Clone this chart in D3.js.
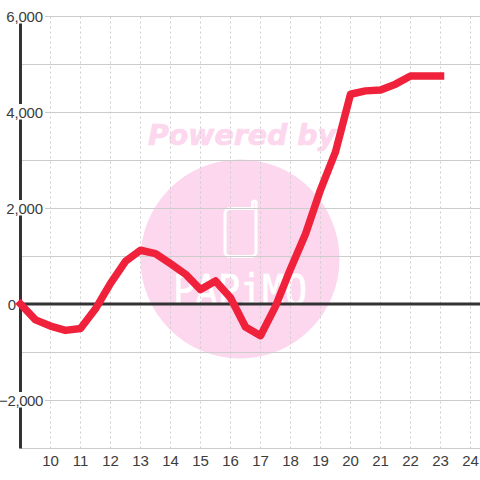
<!DOCTYPE html>
<html><head><meta charset="utf-8">
<script src="https://cdn.jsdelivr.net/npm/d3@7"></script>
<style>html,body{margin:0;padding:0;background:#fff}svg{display:block}</style>
</head><body><svg id="c" width="480" height="480"></svg>
<script>
const hours = [9,9.5,10,10.5,11,11.5,12,12.5,13,13.5,14,14.5,15,15.5,16,16.5,17,17.5,18,18.5,19,19.5,20,20.5,21,21.5,22,22.5,23];
const values = [0,-330,-460,-550,-510,-100,430,890,1120,1050,840,620,300,480,130,-480,-660,-50,730,1460,2380,3170,4370,4440,4460,4580,4750,4750,4750];
const xTicks = [10,11,12,13,14,15,16,17,18,19,20,21,22,23,24];
const yGrid = [6000,5000,4000,3000,2000,1000,-1000,-2000,-3000];
const yLabels = [6000,4000,2000,0,-2000];

const svg = d3.select("#c");
const x = d3.scaleLinear().domain([9,24]).range([20.5,470.5]);
const y = d3.scaleLinear().domain([-3000,6000]).range([448.5,16.5]);
const fmt = d3.format(",");
const GRID="#ccc", AXIS="#333", TXT="#3c3c3c", PINK="#fcd7ee";

// watermark logo
const logo = svg.append("g");
logo.append("circle").attr("cx",240).attr("cy",259).attr("r",99.5).attr("fill",PINK);
logo.append("text").attr("x",148).attr("y",145)
  .attr("font-family","DejaVu Sans").attr("font-weight","bold").attr("font-style","italic")
  .attr("font-size",28.4).attr("fill",PINK).attr("stroke",PINK).attr("stroke-width",0.7).text("Powered by");
logo.append("path")
  .attr("d","M230 208.5H252.5V202a2 2 0 0 1 3.5 0V252a4.5 4.5 0 0 1-4.5 4.5H229.5a4.5 4.5 0 0 1-4.5-4.5V213.5a5 5 0 0 1 5-5Z")
  .attr("fill","none").attr("stroke","#fff").attr("stroke-width",3);
logo.append("text").attr("x",173).attr("y",305)
  .attr("font-family","DejaVu Sans Mono").attr("font-size",42).attr("fill","#fff")
  .attr("stroke","#fff").attr("stroke-width",0.7)
  .attr("textLength",134).attr("lengthAdjust","spacingAndGlyphs").text("PAPiMO");

// grid
svg.append("g").selectAll("line").data(xTicks).join("line")
  .attr("x1",d=>x(d)).attr("x2",d=>x(d)).attr("y1",y(6000)).attr("y2",y(-3000))
  .attr("stroke",GRID).attr("stroke-width",1).attr("stroke-dasharray","2,3");
svg.append("g").selectAll("line").data(yGrid).join("line")
  .attr("x1",x(9)).attr("x2",480).attr("y1",d=>y(d)).attr("y2",d=>y(d))
  .attr("stroke",GRID).attr("stroke-width",1);

// axes
svg.append("line").attr("x1",20.5).attr("x2",20.5).attr("y1",y(6000)).attr("y2",y(-3000))
  .attr("stroke",AXIS).attr("stroke-width",3);
svg.append("line").attr("x1",20).attr("x2",480).attr("y1",y(0)-0.5).attr("y2",y(0)-0.5)
  .attr("stroke",AXIS).attr("stroke-width",3);

// series
const line = d3.line().x((d,i)=>x(hours[i])).y(d=>y(d)-0.5);
svg.append("path").datum(values).attr("d",line).attr("fill","none")
  .attr("stroke","#f0213a").attr("stroke-width",7.5)
  .attr("stroke-linejoin","round").attr("stroke-linecap","square");

// labels
const yl = svg.append("g").attr("font-family","Liberation Sans").attr("font-size",15).attr("fill",TXT);
yLabels.filter(d=>d!==0).forEach(d=>{
  yl.append("rect").attr("x",0).attr("y",y(d)-8.5).attr("width",45).attr("height",15.5).attr("fill","#fff");
});
yl.selectAll("text").data(yLabels).join("text")
  .attr("letter-spacing",d=>d<0?-0.4:-0.15)
  .attr("x",d=>d===0?16:43).attr("y",d=>y(d)+5.5).attr("text-anchor","end").text(d=>fmt(d));
svg.append("g").attr("font-family","Liberation Sans").attr("font-size",15).attr("fill",TXT)
  .selectAll("text").data(xTicks).join("text")
  .attr("x",d=>x(d)).attr("y",466).attr("text-anchor","middle").text(d=>d);
</script></body></html>
